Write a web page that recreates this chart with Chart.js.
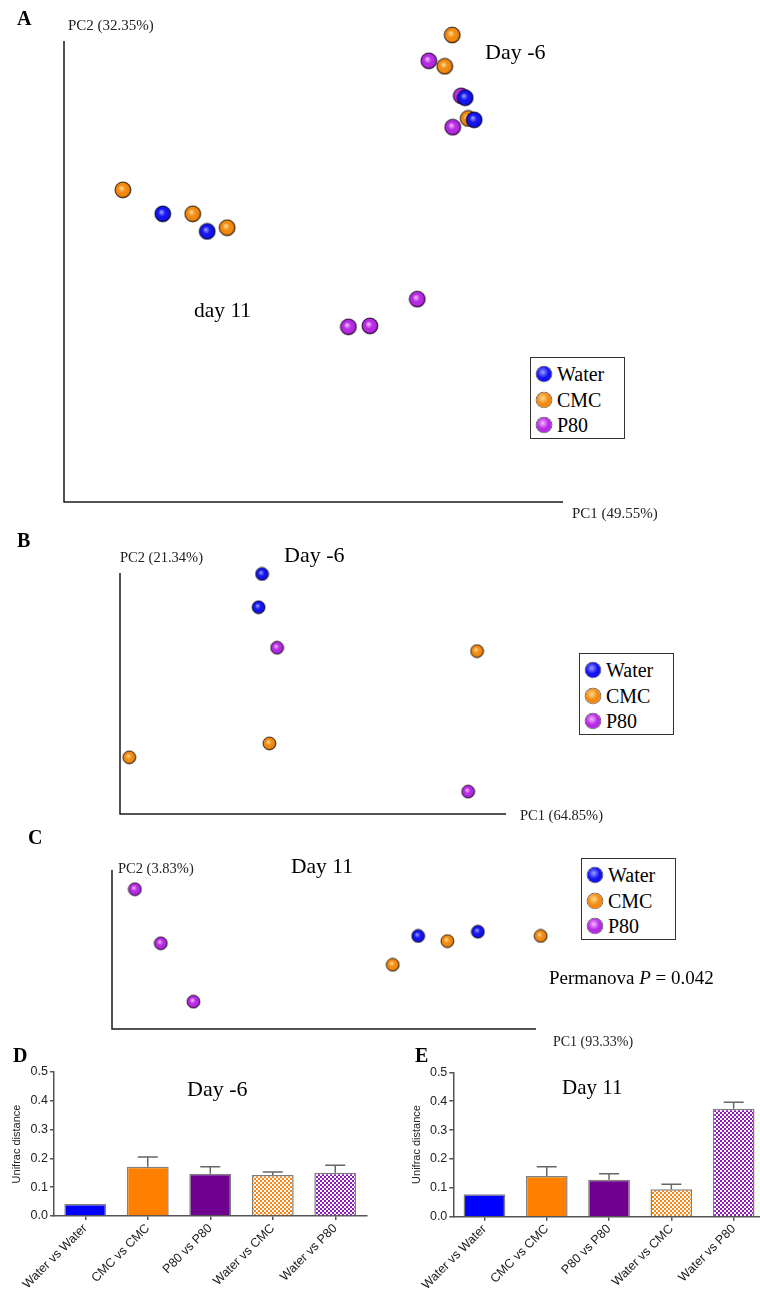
<!DOCTYPE html>
<html>
<head>
<meta charset="utf-8">
<title>PCoA and Unifrac distance</title>
<script src="https://cdn.jsdelivr.net/npm/chart.js@4.4.1/dist/chart.umd.min.js"></script>
<style>
  body { margin: 0; background: #fff; }
  #page { position: relative; width: 760px; height: 1290px; overflow: hidden; font-family: "Liberation Serif", "Times New Roman", serif; color: #111; }
  #page canvas { position: absolute; }
  .t { position: absolute; white-space: nowrap; line-height: 1; transform: translateY(-50%); }
  .lbl { font-weight: bold; font-size: 20px; color: #000; }
  .ax { font-size: 14.5px; color: #222; }
  .note { font-size: 22px; color: #000; }
  .legend { position: absolute; width: 95px; height: 82px; border: 1.5px solid #333; box-sizing: border-box; background: #fff; }
  .legend .ball { position: absolute; width: 15px; height: 15px; border-radius: 50%; transform: translate(-50%, -50%); box-shadow: 0 0 0 0.8px rgba(0,0,0,0.65); }
  .legend .name { position: absolute; font-size: 20px; line-height: 1; transform: translateY(-50%); color: #000; }
</style>
</head>
<body>
<div id="page">
  <canvas id="pcoaA" style="left:0;top:0"></canvas>
  <canvas id="pcoaB" style="left:0;top:530px"></canvas>
  <canvas id="pcoaC" style="left:0;top:830px"></canvas>
  <canvas id="barD" style="left:0;top:1040px"></canvas>
  <canvas id="barE" style="left:380px;top:1040px"></canvas>

  <div class="t lbl" style="left:17px;top:18px">A</div>
  <div class="t ax" style="left:68px;top:25px;font-size:15px">PC2 (32.35%)</div>
  <div class="t ax" style="left:572px;top:513px;font-size:15px">PC1 (49.55%)</div>
  <div class="t note" style="left:485px;top:52px">Day -6</div>
  <div class="t note" style="left:194px;top:311px;font-size:21.5px">day 11</div>

  <div class="t lbl" style="left:17px;top:540px">B</div>
  <div class="t ax" style="left:120px;top:557px">PC2 (21.34%)</div>
  <div class="t ax" style="left:520px;top:815px">PC1 (64.85%)</div>
  <div class="t note" style="left:284px;top:555px">Day -6</div>

  <div class="t lbl" style="left:28px;top:837px">C</div>
  <div class="t ax" style="left:118px;top:868px">PC2 (3.83%)</div>
  <div class="t ax" style="left:553px;top:1042px;font-size:14px">PC1 (93.33%)</div>
  <div class="t note" style="left:291px;top:867px;font-size:21.5px">Day 11</div>
  <div class="t note" style="left:549px;top:977px;font-size:19px">Permanova <i>P</i> = 0.042</div>

  <div class="t lbl" style="left:13px;top:1055px">D</div>
  <div class="t note" style="left:187px;top:1089px">Day -6</div>
  <div class="t lbl" style="left:415px;top:1055px">E</div>
  <div class="t note" style="left:562px;top:1087px;font-size:21px">Day 11</div>
</div>

<script>
const sans = '"Liberation Sans", Arial, sans-serif';

const groups = ['Water', 'CMC', 'P80'];
const ballColors = {
    Water: ['#9a9aff', '#1414f2', '#00005a'],
    CMC: ['#ffd98a', '#f28a12', '#663000'],
    P80: ['#f7b4ff', '#b52ae2', '#4c0060']
};

// PCoA scores (axis-relative units, 0..1 along each axis)
const aWater = [[0.198, 0.625], [0.287, 0.587], [0.804, 0.877], [0.822, 0.829]];
const aCMC = [[0.118, 0.677], [0.258, 0.625], [0.327, 0.595], [0.778, 1.013], [0.763, 0.945], [0.810, 0.832]];
const aP80 = [[0.731, 0.957], [0.796, 0.881], [0.779, 0.813], [0.708, 0.440], [0.570, 0.380], [0.613, 0.382]];

const bWater = [[0.368, 0.996], [0.359, 0.858]];
const bCMC = [[0.925, 0.676], [0.387, 0.293], [0.024, 0.235]];
const bP80 = [[0.407, 0.690], [1.031, 0.739], [0.902, 0.093]];

const cWater = [[0.722, 0.585], [0.863, 0.612]];
const cCMC = [[0.662, 0.404], [0.791, 0.553], [1.011, 0.585]];
const cP80 = [[0.054, 0.879], [0.115, 0.539], [0.192, 0.172]];

// Unifrac distances (mean, sem)
const pairs = ['Water vs Water', 'CMC vs CMC', 'P80 vs P80', 'Water vs CMC', 'Water vs P80'];
const dMean = [0.042, 0.171, 0.147, 0.142, 0.150];
const dSem = [0, 0.034, 0.024, 0.011, 0.026];
const eMean = [0.078, 0.141, 0.128, 0.095, 0.374];
const eSem = [0, 0.032, 0.021, 0.017, 0.022];
const yTicks = [0, 0.1, 0.2, 0.3, 0.4, 0.5];

// shaded sphere used as point style
function ball(r, cols) {
    const c = document.createElement('canvas');
    const s = Math.ceil(r * 2 + 2);
    c.width = c.height = s;
    const g = c.getContext('2d');
    const m = s / 2;
    const grad = g.createRadialGradient(m - r * 0.2, m - r * 0.25, r * 0.05, m, m, r);
    grad.addColorStop(0, cols[0]);
    grad.addColorStop(0.45, cols[1]);
    grad.addColorStop(0.78, cols[1]);
    grad.addColorStop(1, cols[2]);
    g.fillStyle = grad;
    g.beginPath();
    g.arc(m, m, r, 0, Math.PI * 2);
    g.fill();
    g.lineWidth = 0.9;
    g.strokeStyle = 'rgba(0,0,0,0.7)';
    g.stroke();
    return c;
}

const axisLines = {
    id: 'axisLines',
    beforeDatasetsDraw(chart) {
        const { ctx, chartArea: a } = chart;
        ctx.save();
        ctx.strokeStyle = '#1a1a1a';
        ctx.lineWidth = 1.5;
        ctx.beginPath();
        ctx.moveTo(a.left, a.top);
        ctx.lineTo(a.left, a.bottom);
        ctx.lineTo(a.right, a.bottom);
        ctx.stroke();
        ctx.restore();
    }
};

function pcoa(id, w, h, pad, r, sets) {
    const cv = document.getElementById(id);
    cv.width = w;
    cv.height = h;
    new Chart(cv, {
        type: 'scatter',
        data: {
            datasets: groups.map((g, i) => ({
                label: g,
                data: sets[i].map(p => ({ x: p[0], y: p[1] })),
                pointStyle: ball(r, ballColors[g]),
                pointRadius: r,
                clip: false
            }))
        },
        options: {
            responsive: false,
            animation: false,
            layout: { padding: pad },
            plugins: { legend: { display: false }, tooltip: { enabled: false } },
            scales: {
                x: { display: false, min: 0, max: 1 },
                y: { display: false, min: 0, max: 1 }
            }
        },
        plugins: [axisLines]
    });
}

function legend(left, top) {
    const box = document.createElement('div');
    box.className = 'legend';
    box.style.left = left + 'px';
    box.style.top = top + 'px';
    groups.forEach((g, i) => {
        const cy = 16 + i * 25.5;
        const b = document.createElement('span');
        const c = ballColors[g];
        b.className = 'ball';
        b.style.left = '13px';
        b.style.top = cy + 'px';
        b.style.background = `radial-gradient(circle at 42% 38%, ${c[0]} 0%, ${c[1]} 45%, ${c[1]} 76%, ${c[2]} 100%)`;
        const t = document.createElement('span');
        t.className = 'name';
        t.style.left = '26px';
        t.style.top = cy + 'px';
        t.textContent = g;
        box.appendChild(b);
        box.appendChild(t);
    });
    document.getElementById('page').appendChild(box);
}

function checker(ctx, color) {
    const t = document.createElement('canvas');
    t.width = t.height = 4;
    const g = t.getContext('2d');
    g.fillStyle = '#fff';
    g.fillRect(0, 0, 4, 4);
    g.fillStyle = color;
    g.fillRect(0, 0, 2, 2);
    g.fillRect(2, 2, 2, 2);
    return ctx.createPattern(t, 'repeat');
}

const errorBars = {
    id: 'errorBars',
    afterDatasetsDraw(chart) {
        const { ctx, scales: { y } } = chart;
        const ds = chart.data.datasets[0];
        ctx.save();
        ctx.strokeStyle = '#666';
        ctx.lineWidth = 1.5;
        chart.getDatasetMeta(0).data.forEach((bar, i) => {
            if (!ds.sem[i]) return;
            const top = y.getPixelForValue(ds.data[i] + ds.sem[i]);
            ctx.beginPath();
            ctx.moveTo(bar.x, bar.y);
            ctx.lineTo(bar.x, top);
            ctx.moveTo(bar.x - 10, top);
            ctx.lineTo(bar.x + 10, top);
            ctx.stroke();
        });
        ctx.restore();
    }
};

function distBars(id, w, h, pad, yW, xH, means, sems) {
    const cv = document.getElementById(id);
    cv.width = w;
    cv.height = h;
    const ctx = cv.getContext('2d');
    const fills = ['#0000ff', '#ff8000', '#700090', checker(ctx, '#ff8412'), checker(ctx, '#9018c0')];
    new Chart(cv, {
        type: 'bar',
        data: {
            labels: pairs,
            datasets: [{
                data: means,
                sem: sems,
                backgroundColor: fills,
                borderColor: '#808080',
                borderWidth: 1.5,
                barPercentage: 0.67,
                categoryPercentage: 1
            }]
        },
        options: {
            responsive: false,
            animation: false,
            layout: { padding: pad },
            plugins: { legend: { display: false }, tooltip: { enabled: false } },
            scales: {
                x: {
                    grid: { offset: false, drawOnChartArea: false, tickLength: 4, color: '#555', lineWidth: 1.5 },
                    border: { color: '#555', width: 1.5 },
                    ticks: { color: '#222', font: { family: sans, size: 12.5 }, minRotation: 45, maxRotation: 45, padding: 1 },
                    afterFit(s) { s.height = xH; s.paddingLeft = 0; s.paddingRight = 0; }
                },
                y: {
                    min: 0,
                    max: 0.5,
                    afterBuildTicks(s) { s.ticks = yTicks.map(v => ({ value: v })); },
                    grid: { drawOnChartArea: false, tickLength: 4, color: '#555', lineWidth: 1.5 },
                    border: { color: '#555', width: 1.5 },
                    ticks: { color: '#222', font: { family: sans, size: 12.5 }, padding: 2, callback: v => v.toFixed(1) },
                    title: { display: true, text: 'Unifrac distance', color: '#222', font: { family: sans, size: 11 }, padding: { top: 4, bottom: 0 } },
                    afterFit(s) { s.width = yW; s.paddingTop = 0; s.paddingBottom = 0; }
                }
            }
        },
        plugins: [errorBars]
    });
}

pcoa('pcoaA', 760, 530, { left: 64, right: 197, top: 41, bottom: 28 }, 8, [aWater, aCMC, aP80]);
pcoa('pcoaB', 760, 300, { left: 120, right: 254, top: 43, bottom: 16 }, 6.5, [bWater, bCMC, bP80]);
pcoa('pcoaC', 760, 210, { left: 112, right: 224, top: 40, bottom: 11 }, 6.5, [cWater, cCMC, cP80]);

legend(530, 357);
legend(579, 653);
legend(581, 858);

distBars('barD', 380, 250, { left: 6, right: 13.5, top: 32, bottom: 0 }, 48, 74, dMean, dSem);
distBars('barE', 390, 250, { left: 26, right: 5.2, top: 32.3, bottom: 0 }, 47.3, 73.3, eMean, eSem);
</script>
</body>
</html>
